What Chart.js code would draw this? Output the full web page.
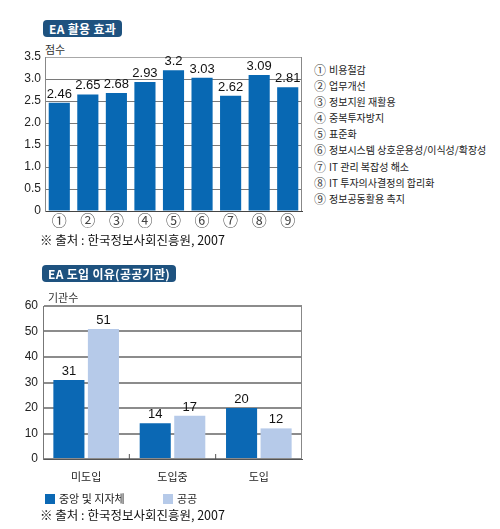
<!DOCTYPE html>
<html>
<head>
<meta charset="utf-8">
<script src="https://cdn.jsdelivr.net/npm/chart.js@4.4.0/dist/chart.umd.min.js"></script>
<style>
  body { margin: 0; width: 500px; height: 529px; background: #fff; position: relative; overflow: hidden;
         font-family: "Noto Sans CJK KR", "Liberation Sans", sans-serif; color: #222; }
  .badge { position: absolute; background: #1e527f; color: #fff; font-weight: bold; font-size: 12px;
           border-radius: 4px; height: 17px; line-height: 17px; padding: 0 6px; letter-spacing: 0.3px; }
  .lbl { position: absolute; font-size: 11px; color: #333; }
  .src { position: absolute; font-size: 12.5px; color: #111; left: 40px; }
  .list { position: absolute; left: 314px; top: 62px; font-size: 10px; line-height: 16.1px; color: #222; }
  .list div { height: 16.1px; white-space: nowrap; }
  .list span { font-family: "Noto Sans CJK KR", sans-serif; font-size: 12px; color: #444; margin-right: 3px;
               display: inline-block; line-height: 14px; vertical-align: -1px; }
  .key { position: absolute; font-size: 11px; color: #222; top: 490px; }
  .key i { display: inline-block; width: 10px; height: 10px; vertical-align: -1px; margin-right: 4px; }
  canvas { position: absolute; }
</style>
</head>
<body>
<div class="badge" style="left:43px;top:20px;">EA 활용 효과</div>
<div class="lbl" style="left:45px;top:41px;">점수</div>
<div id="effectWrap" style="position:absolute;left:0;top:40px;width:310px;height:195px;"><canvas id="effect"></canvas></div>
<div class="list" id="effectList"></div>
<div class="src" style="top:230px;">※ 출처 : 한국정보사회진흥원, 2007</div>

<div class="badge" style="left:42px;top:265px;">EA 도입 이유(공공기관)</div>
<div class="lbl" style="left:48px;top:289px;">기관수</div>
<div id="reasonWrap" style="position:absolute;left:0;top:285px;width:310px;height:200px;"><canvas id="reason"></canvas></div>
<div class="key" style="left:45px;"><i style="background:#0b68b4"></i>중앙 및 지자체</div>
<div class="key" style="left:163px;"><i style="background:#b6cae9"></i>공공</div>
<div class="src" style="top:505px;">※ 출처 : 한국정보사회진흥원, 2007</div>

<script>
// top chart data
var effectTicks = ['①', '②', '③', '④', '⑤', '⑥', '⑦', '⑧', '⑨'];
var effectNames = ['비용절감', '업무개선', '정보지원 재활용', '중복투자방지', '표준화',
  '정보시스템 상호운용성/이식성/확장성', 'IT 관리 복잡성 해소', 'IT 투자의사결정의 합리화', '정보공동활용 촉지'];
var effectScores = [2.46, 2.65, 2.68, 2.93, 3.2, 3.03, 2.62, 3.09, 2.81];
var effectYTicks = [0, 0.5, 1.0, 1.5, 2.0, 2.5, 3.0, 3.5];

// bottom chart data
var reasonCats = ['미도입', '도입중', '도입'];
var reasonCentral = [31, 14, 20];
var reasonPublic = [51, 17, 12];
var reasonYTicks = [0, 10, 20, 30, 40, 50, 60];

var list = document.getElementById('effectList');
for (var i = 0; i < effectTicks.length; i++) {
  var d = document.createElement('div');
  var n = document.createElement('span');
  n.textContent = effectTicks[i];
  d.appendChild(n);
  d.appendChild(document.createTextNode(effectNames[i]));
  list.appendChild(d);
}

var numFont = { family: '"Liberation Sans", Arial, sans-serif', size: 12 };

// draws values above bars, plus the box edges
var valueLabels = {
  id: 'valueLabels',
  afterDatasetsDraw: function(chart, args, opts) {
    var ctx = chart.ctx;
    ctx.save();
    ctx.fillStyle = '#111';
    ctx.font = '13px "Liberation Sans", Arial, sans-serif';
    ctx.textAlign = 'center';
    ctx.textBaseline = 'bottom';
    chart.data.datasets.forEach(function(ds, di) {
      chart.getDatasetMeta(di).data.forEach(function(bar, j) {
        ctx.fillText(String(ds.data[j]), bar.x, bar.y - 2);
      });
    });
    var a = chart.chartArea;
    ctx.strokeStyle = opts.edge || '#999';
    ctx.lineWidth = 1;
    ctx.beginPath();
    ctx.moveTo(a.right - 0.5, a.top);
    ctx.lineTo(a.right - 0.5, a.bottom);
    ctx.stroke();
    if (opts.groupTicks) {
      var xs = chart.scales.x;
      ctx.strokeStyle = '#555';
      for (var k = 0; k < xs.ticks.length - 1; k++) {
        var bx = (xs.getPixelForTick(k) + xs.getPixelForTick(k + 1)) / 2;
        ctx.beginPath();
        ctx.moveTo(bx, a.bottom);
        ctx.lineTo(bx, a.bottom - 5);
        ctx.stroke();
      }
    }
    ctx.restore();
  }
};

new Chart(document.getElementById('effect'), {
  type: 'bar',
  data: {
    labels: effectTicks,
    datasets: [{ data: effectScores, backgroundColor: '#0868b3', barPercentage: 0.74, categoryPercentage: 1 }]
  },
  options: {
    responsive: true,
    maintainAspectRatio: false,
    animation: false,
    layout: { padding: { top: 17, right: 8, left: 0, bottom: 0 } },
    plugins: {
      legend: { display: false },
      tooltip: { enabled: false },
      valueLabels: { edge: '#888' }
    },
    scales: {
      x: {
        grid: { display: false, drawTicks: false, tickLength: 0 },
        border: { color: '#444', width: 1 },
        ticks: { color: '#444', font: { family: '"Noto Sans CJK KR", sans-serif', size: 15, lineHeight: 1 }, padding: 2 },
        afterFit: function(s) { s.height = 24; }
      },
      y: {
        min: 0, max: 3.5,
        afterBuildTicks: function(s) { s.ticks = effectYTicks.map(function(v) { return { value: v }; }); },
        grid: {
          color: function(c) { return c.tick && c.tick.value === 3.5 ? '#a8a8a8' : '#7a7a7a'; },
          drawTicks: false
        },
        border: { color: '#888' },
        ticks: {
          color: '#222', font: numFont, padding: 4,
          callback: function(v) { return v === 0 ? '0' : v.toFixed(1); }
        },
        afterFit: function(s) { s.width = 45; }
      }
    }
  },
  plugins: [valueLabels]
});

new Chart(document.getElementById('reason'), {
  type: 'bar',
  data: {
    labels: reasonCats,
    datasets: [
      { label: '중앙 및 지자체', data: reasonCentral, backgroundColor: '#0b68b4', barPercentage: 0.9, categoryPercentage: 0.8 },
      { label: '공공', data: reasonPublic, backgroundColor: '#b6cae9', barPercentage: 0.9, categoryPercentage: 0.8 }
    ]
  },
  options: {
    responsive: true,
    maintainAspectRatio: false,
    animation: false,
    layout: { padding: { top: 21, right: 8, left: 0, bottom: 0 } },
    plugins: {
      legend: { display: false },
      tooltip: { enabled: false },
      valueLabels: { edge: '#888', groupTicks: true }
    },
    scales: {
      x: {
        grid: { display: false },
        border: { color: '#555', width: 1 },
        ticks: { color: '#222', font: { family: '"Noto Sans CJK KR", sans-serif', size: 11 }, padding: 3 },
        afterFit: function(s) { s.height = 26; }
      },
      y: {
        min: 0, max: 60,
        afterBuildTicks: function(s) { s.ticks = reasonYTicks.map(function(v) { return { value: v }; }); },
        grid: { color: '#8c8c8c', lineWidth: 2, drawTicks: false },
        border: { color: '#777' },
        ticks: { color: '#222', font: numFont, padding: 5 },
        afterFit: function(s) { s.width = 43; }
      }
    }
  },
  plugins: [valueLabels]
});
</script>
</body>
</html>
